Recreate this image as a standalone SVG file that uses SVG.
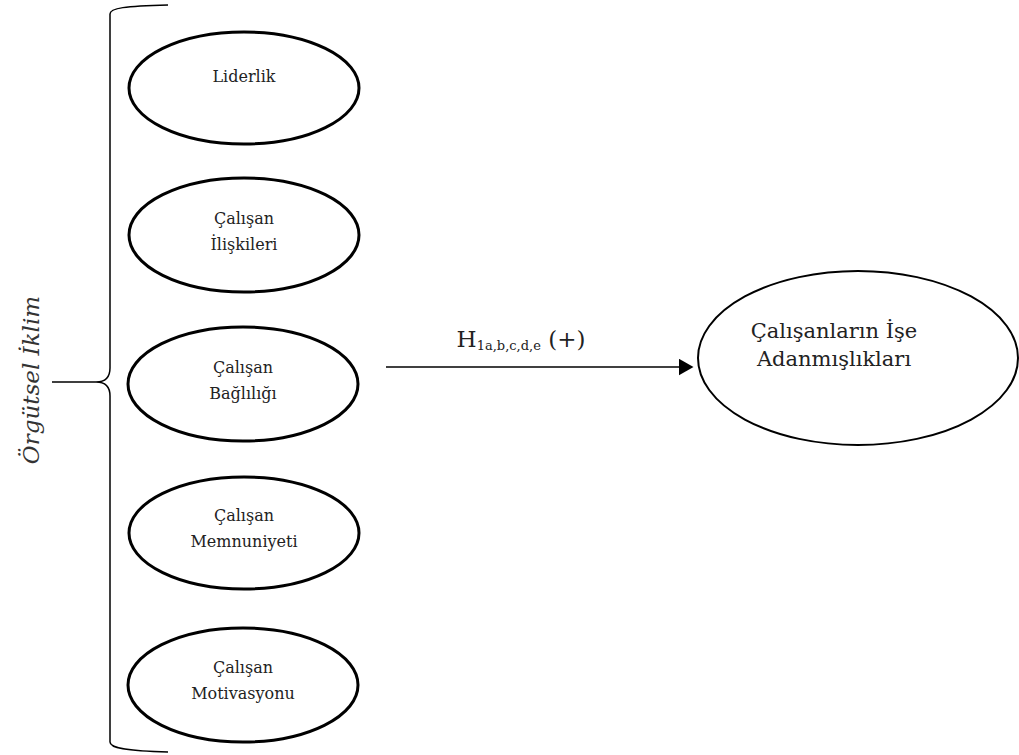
<svg xmlns="http://www.w3.org/2000/svg" width="1019" height="755" viewBox="0 0 1019 755">
<style>
.n ellipse{fill:#fff;stroke:#000;stroke-width:3}
.t{font-family:'DejaVu Serif','Liberation Serif',serif;font-size:16px;fill:#222;text-anchor:middle}
.b{font-size:21px}
</style>
<defs>
<marker id="ah" viewBox="0 0 10 10" refX="9" refY="5" markerWidth="15" markerHeight="17" markerUnits="userSpaceOnUse" orient="auto" preserveAspectRatio="none"><path d="M0,0L10,5L0,10z" fill="#000"/></marker>
</defs>
<rect width="1019" height="755" fill="#fff"/>
<g id="bracket" fill="none" stroke="#000" stroke-width="1.5">
<path d="M168,5 C125,6 110,8 110,14 L110,368 C110,378 105,382 96,382 L52,382 M96,382 C105,382 110,386 110,396 L110,742 C110,748 125,751 168,752"/>
</g>
<text class="t" transform="translate(39,380) rotate(-90)" style="font-size:23px;font-style:italic;fill:#333">Örgütsel İklim</text>
<g id="n1" class="n"><ellipse cx="244" cy="88" rx="115" ry="56"/><text class="t" x="244" y="82">Liderlik</text></g>
<g id="n2" class="n"><ellipse cx="244" cy="235" rx="115" ry="57"/><text class="t" x="244" y="224">Çalışan</text><text class="t" x="244" y="250">İlişkileri</text></g>
<g id="n3" class="n"><ellipse cx="243" cy="384" rx="115" ry="57"/><text class="t" x="243" y="373">Çalışan</text><text class="t" x="243" y="399">Bağlılığı</text></g>
<g id="n4" class="n"><ellipse cx="244" cy="533" rx="115" ry="56"/><text class="t" x="244" y="521">Çalışan</text><text class="t" x="244" y="547">Memnuniyeti</text></g>
<g id="n5" class="n"><ellipse cx="243" cy="685" rx="115" ry="57"/><text class="t" x="243" y="673">Çalışan</text><text class="t" x="243" y="699">Motivasyonu</text></g>
<g id="n6" class="n"><ellipse cx="858" cy="358" rx="160" ry="87" style="stroke-width:2"/><text class="t b" x="834" y="338">Çalışanların İşe</text><text class="t b" x="834" y="366">Adanmışlıkları</text></g>
<g id="connectors">
<line x1="386" y1="367" x2="692" y2="367" stroke="#000" stroke-width="1.5" marker-end="url(#ah)"/>
<text class="t" x="521" y="347" style="font-size:23px">H<tspan style="font-size:13px" dy="3">1a,b,c,d,e</tspan><tspan dy="-3"> (+)</tspan></text>
</g>
</svg>
